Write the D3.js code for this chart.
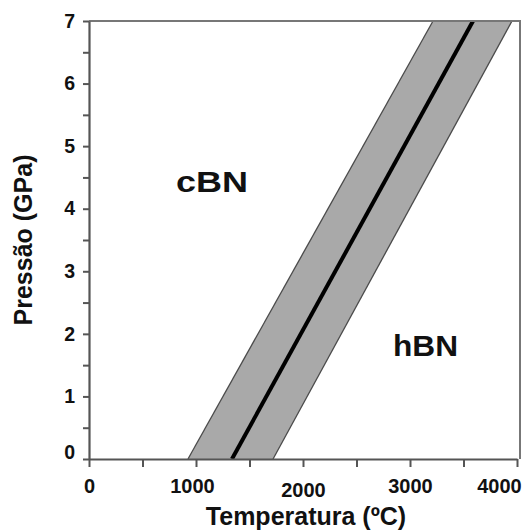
<!DOCTYPE html>
<html>
<head>
<meta charset="utf-8">
<script src="https://cdn.jsdelivr.net/npm/d3@7"></script>
<style>
    body { margin: 0; background: #fff; }
    svg { display: block; }
    text { font-family: "Liberation Sans", Arial, sans-serif; font-weight: bold; fill: #111; }
</style>
</head>
<body>
<svg id="chart" width="531" height="532"></svg>
<script>
// values
const xTicks = [0, 1000, 2000, 3000, 4000];
const xMinor = [500, 1500, 2500, 3500];
const yTicks = [0, 1, 2, 3, 4, 5, 6, 7];
const yMinor = [0.5, 1.5, 2.5, 3.5, 4.5, 5.5, 6.5];

// phase boundary (P in GPa, T in ºC) and its uncertainty band
const pressure = [0, 7];
const bandLow = [925, 3215];
const boundary = [1336, 3589];
const bandHigh = [1720, 3953];

const phases = [
    {name: "cBN", T: 1150, P: 4.27, width: 72},
    {name: "hBN", T: 3145, P: 1.65, width: 65}
];

const svg = d3.select("#chart");

let x = d3.scaleLinear().domain([0, 4000]).range([89, 517]);
let y = d3.scaleLinear().domain([0, 7]).range([459, 21]);

// band
let bandPts = pressure.map((p, i) => [x(bandLow[i]), y(p)])
    .concat(pressure.map((p, i) => [x(bandHigh[i]), y(p)]).reverse());

svg.append("polygon")
    .attr("points", bandPts.map(d => d.join(",")).join(" "))
    .attr("fill", "#a9a9a9");

[bandLow, bandHigh].forEach(edge => {
    svg.append("line")
        .attr("x1", x(edge[0])).attr("y1", y(pressure[0]))
        .attr("x2", x(edge[1])).attr("y2", y(pressure[1]))
        .attr("stroke", "#4a4a4a")
        .attr("stroke-width", 1.3);
});

svg.append("line")
    .attr("x1", x(boundary[0])).attr("y1", y(pressure[0]))
    .attr("x2", x(boundary[1])).attr("y2", y(pressure[1]))
    .attr("stroke", "#000")
    .attr("stroke-width", 4);

// frame (top and right)
svg.append("path")
    .attr("d", `M${x(0)},${y(7)}H520V${y(0)}`)
    .attr("fill", "none")
    .attr("stroke", "#777")
    .attr("stroke-width", 2);

// axes
let xAxis = svg.append("g")
    .attr("transform", `translate(0,${y(0)})`)
    .call(d3.axisBottom(x).tickValues(xTicks.concat(xMinor)).tickSize(8).tickSizeOuter(0)
        .tickFormat(d => xTicks.includes(d) ? d : ""));

xAxis.selectAll("text")
    .attr("font-size", 20)
    .attr("font-family", null)
    .attr("y", 20)
    .attr("dy", "0.71em")
    .attr("fill", null)
    .attr("dx", d => d === 4000 ? -18 : (d === 1000 ? -4 : 0))
    .filter(d => d === 2000).attr("y", 24);

let yAxis = svg.append("g")
    .attr("transform", `translate(${x(0)},0)`)
    .call(d3.axisLeft(y).tickValues(yTicks.concat(yMinor)).tickSize(6).tickSizeOuter(0)
        .tickFormat(d => yTicks.includes(d) ? d : ""));

yAxis.selectAll("text")
    .attr("font-size", 19.5)
    .attr("font-family", null)
    .attr("x", -14)
    .attr("fill", null)
    .attr("dy", d => d === 0 ? "-0.05em" : "0.32em");

svg.selectAll(".domain").attr("stroke", "#555").attr("stroke-width", 2.2);
svg.selectAll(".tick line").attr("stroke", "#555").attr("stroke-width", 2);

// axis titles
svg.append("text")
    .attr("x", 306).attr("y", 525)
    .attr("text-anchor", "middle")
    .attr("font-size", 25)
    .text("Temperatura (ºC)");

svg.append("text")
    .attr("transform", "translate(32,240) rotate(-90)")
    .attr("text-anchor", "middle")
    .attr("font-size", 25)
    .text("Pressão (GPa)");

// phase labels
svg.selectAll(".phase")
    .data(phases)
    .enter()
    .append("text")
    .attr("class", "phase")
    .attr("x", d => x(d.T) - d.width / 2)
    .attr("y", d => y(d.P))
    .attr("font-size", 29)
    .attr("textLength", d => d.width)
    .attr("lengthAdjust", "spacingAndGlyphs")
    .text(d => d.name);
</script>
</body>
</html>
